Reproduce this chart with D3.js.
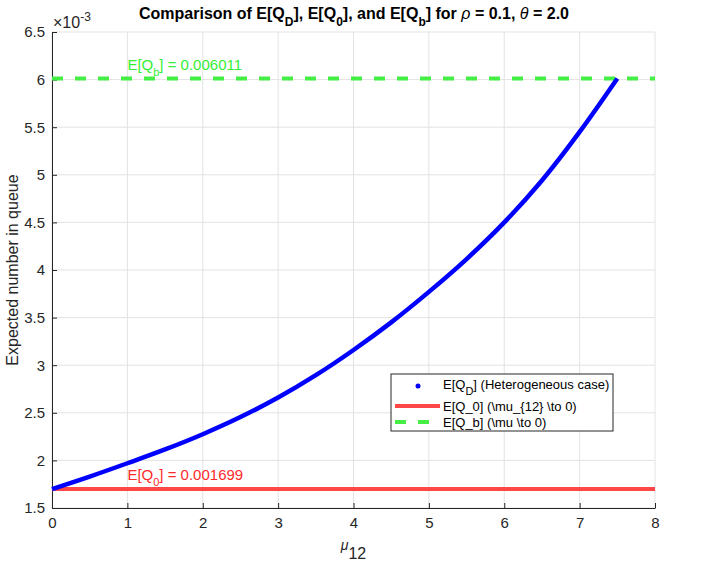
<!DOCTYPE html>
<html>
<head>
<meta charset="utf-8">
<script src="https://cdn.jsdelivr.net/npm/d3@7"></script>
<style>
  body { margin: 0; background: #fff; }
  svg { font-family: "Liberation Sans", Arial, sans-serif; }
</style>
</head>
<body>
<svg width="722" height="580"></svg>
<script>
// mu_12 values and E[Q_D] (x 1e-3)
var mu12 = [0, 0.5, 1, 1.5, 2, 2.5, 3, 3.5, 4, 4.5, 5, 5.5, 6, 6.5, 7, 7.5];
var eqD = [1.699, 1.83, 1.97, 2.115, 2.275, 2.455, 2.66, 2.895, 3.16, 3.45, 3.77, 4.115, 4.5, 4.94, 5.45, 6.011];
var eq0 = 1.699;   // x 1e-3
var eqB = 6.011;   // x 1e-3
var xTicks = [0, 1, 2, 3, 4, 5, 6, 7, 8];
var yTicks = [1.5, 2, 2.5, 3, 3.5, 4, 4.5, 5, 5.5, 6, 6.5];

var data = mu12.map(function (m, i) { return { mu: m, q: eqD[i] }; });

var svg = d3.select("svg");
var margin = { top: 32, right: 67, bottom: 72, left: 52 };
var width = +svg.attr("width") - margin.left - margin.right;
var height = +svg.attr("height") - margin.top - margin.bottom;
var g = svg.append("g").attr("transform", "translate(" + margin.left + "," + margin.top + ")");

var xScale = d3.scaleLinear().domain([0, 8]).range([0, width]);
var yScale = d3.scaleLinear().domain([1.5, 6.5]).range([height, 0]);

// grid
g.append("g").selectAll("line").data(xTicks).enter().append("line")
    .attr("x1", function (d) { return xScale(d); })
    .attr("x2", function (d) { return xScale(d); })
    .attr("y1", 0).attr("y2", height)
    .attr("stroke", "#e3e3e3").attr("stroke-width", 1);
g.append("g").selectAll("line").data(yTicks).enter().append("line")
    .attr("y1", function (d) { return yScale(d); })
    .attr("y2", function (d) { return yScale(d); })
    .attr("x1", 0).attr("x2", width)
    .attr("stroke", "#e3e3e3").attr("stroke-width", 1);

// axes
var xAxis = g.append("g")
    .attr("transform", "translate(0," + height + ")")
    .call(d3.axisBottom(xScale).tickValues(xTicks).tickSizeInner(-5).tickSizeOuter(0).tickPadding(9));
var yAxis = g.append("g")
    .call(d3.axisLeft(yScale).tickValues(yTicks).tickSizeInner(-5).tickSizeOuter(0).tickPadding(7)
        .tickFormat(function (d) { return d3.format("")(d); }));
[xAxis, yAxis].forEach(function (a) {
    a.select(".domain").attr("stroke", "#262626").attr("stroke-width", 1);
    a.selectAll(".tick line").attr("stroke", "#262626");
    a.selectAll(".tick text").attr("fill", "#262626").style("font-size", "15px");
});

// reference lines
g.append("line")
    .attr("x1", xScale(0)).attr("x2", xScale(8))
    .attr("y1", yScale(eq0)).attr("y2", yScale(eq0))
    .attr("stroke", "#ff4747").attr("stroke-width", 4);
g.append("line")
    .attr("x1", xScale(0)).attr("x2", xScale(8))
    .attr("y1", yScale(eqB)).attr("y2", yScale(eqB))
    .attr("stroke", "#45ee45").attr("stroke-width", 4)
    .style("stroke-dasharray", "11, 12");

// E[Q_D] curve
var line = d3.line()
    .x(function (d) { return xScale(d.mu); })
    .y(function (d) { return yScale(d.q); })
    .curve(d3.curveCatmullRom);
g.append("path")
    .attr("d", line(data))
    .attr("fill", "none")
    .attr("stroke", "#0000ff")
    .attr("stroke-width", 4.5);

// annotations
function subText(sel, parts, subSize) {
    parts.forEach(function (p) {
        var t = sel.append("tspan").text(p[0]);
        if (p[1] === "sub") t.attr("baseline-shift", "sub").style("font-size", subSize || "11px");
    });
}
var tb = g.append("text")
    .attr("x", xScale(1)).attr("y", yScale(eqB) - 9)
    .attr("fill", "#33ee33").style("font-size", "15px");
subText(tb, [["E[Q"], ["b", "sub"], ["] = 0.006011"]]);
var t0 = g.append("text")
    .attr("x", xScale(1)).attr("y", yScale(eq0) - 9)
    .attr("fill", "#ff2a2a").style("font-size", "15px");
subText(t0, [["E[Q"], ["0", "sub"], ["] = 0.001699"]]);

// exponent label
var ex = svg.append("text")
    .attr("x", margin.left + 1).attr("y", 28)
    .attr("fill", "#262626").style("font-size", "16px");
ex.append("tspan").text("\u00d710");
ex.append("tspan").attr("baseline-shift", "super").style("font-size", "12px").text("-3");

// title
var title = svg.append("text")
    .attr("x", 354).attr("y", 19)
    .attr("text-anchor", "middle")
    .style("font-size", "16px").style("font-weight", "bold").attr("fill", "#000");
subText(title, [["Comparison of E[Q"], ["D", "sub"], ["], E[Q"], ["0", "sub"], ["], and E[Q"], ["b", "sub"], ["] for "]], "12px");
title.append("tspan").style("font-style", "italic").style("font-weight", "normal").text("\u03c1");
title.append("tspan").text(" = 0.1, ");
title.append("tspan").style("font-style", "italic").style("font-weight", "normal").text("\u03b8");
title.append("tspan").text(" = 2.0");

// axis labels
var xl = svg.append("text")
    .attr("x", margin.left + width / 2).attr("y", 550)
    .attr("text-anchor", "middle").attr("fill", "#262626").style("font-size", "16px");
xl.append("tspan").style("font-style", "italic").style("font-size", "14px").text("\u03bc");
xl.append("tspan").attr("baseline-shift", "sub").text("12");

svg.append("text")
    .attr("transform", "translate(18," + (margin.top + height / 2) + ") rotate(-90)")
    .attr("text-anchor", "middle").attr("fill", "#262626").style("font-size", "16px")
    .text("Expected number in queue");

// legend
var lg = svg.append("g").attr("transform", "translate(391,374)");
lg.append("rect").attr("width", 222).attr("height", 57)
    .attr("fill", "#fff").attr("stroke", "#262626").attr("stroke-width", 1);
lg.append("circle").attr("cx", 27).attr("cy", 12).attr("r", 2.5).attr("fill", "#0000ff");
lg.append("line").attr("x1", 4).attr("x2", 49).attr("y1", 32).attr("y2", 32)
    .attr("stroke", "#ff4747").attr("stroke-width", 4);
lg.append("line").attr("x1", 4).attr("x2", 49).attr("y1", 48).attr("y2", 48)
    .attr("stroke", "#45ee45").attr("stroke-width", 4).style("stroke-dasharray", "11, 12");
var l1 = lg.append("text").attr("x", 52).attr("y", 15).attr("fill", "#000").style("font-size", "13px");
subText(l1, [["E[Q"], ["D", "sub"], ["] (Heterogeneous case)"]]);
lg.append("text").attr("x", 52).attr("y", 37).attr("fill", "#000").style("font-size", "13px")
    .text("E[Q_0] (\\mu_{12} \\to 0)");
lg.append("text").attr("x", 52).attr("y", 53).attr("fill", "#000").style("font-size", "13px")
    .text("E[Q_b] (\\mu \\to 0)");
</script>
</body>
</html>
